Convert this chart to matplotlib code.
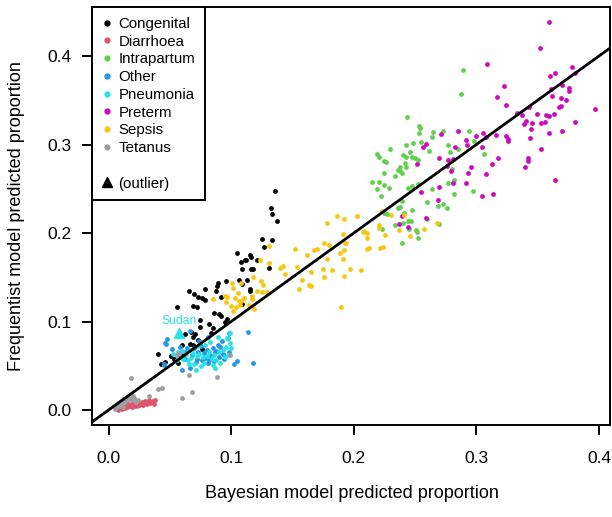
import matplotlib
matplotlib.use("Agg")
import matplotlib.pyplot as plt
from matplotlib.lines import Line2D

plt.rcParams['font.family'] = ['Liberation Sans', 'DejaVu Sans']

categories = ["Congenital", "Diarrhoea", "Intrapartum", "Other", "Pneumonia", "Preterm", "Sepsis", "Tetanus"]
colors = ["#000000", "#DF536B", "#61D04F", "#2297E6", "#28E2E5", "#CD0BBC", "#F5C710", "#9E9E9E"]

congenital = [
    (0.136, 0.247), (0.1325, 0.228), (0.133, 0.221), (0.137, 0.214), (0.125, 0.193), (0.133, 0.192),
    (0.1265, 0.184), (0.105, 0.177), (0.115, 0.175), (0.111, 0.170), (0.116, 0.1725), (0.121, 0.170),
    (0.108, 0.167), (0.112, 0.169), (0.1305, 0.161), (0.1085, 0.159), (0.116, 0.159), (0.118, 0.159),
    (0.1125, 0.147), (0.106, 0.1465), (0.096, 0.146), (0.0895, 0.144), (0.0887, 0.1405), (0.1085, 0.142),
    (0.088, 0.135), (0.079, 0.137), (0.0656, 0.134), (0.070, 0.1307), (0.073, 0.128), (0.0764, 0.126),
    (0.079, 0.124), (0.0914, 0.1277), (0.115, 0.134), (0.115, 0.1367), (0.1088, 0.1194), (0.0688, 0.118),
    (0.0724, 0.116), (0.0558, 0.116), (0.086, 0.110), (0.090, 0.1088), (0.092, 0.106), (0.0745, 0.102),
    (0.0748, 0.094), (0.0816, 0.0975), (0.0947, 0.100), (0.0854, 0.093), (0.0963, 0.103), (0.067, 0.088),
    (0.0705, 0.086), (0.069, 0.083), (0.073, 0.079), (0.0835, 0.0867), (0.066, 0.075), (0.069, 0.073),
    (0.076, 0.0686), (0.0405, 0.063), (0.051, 0.0607), (0.053, 0.0576), (0.0425, 0.052), (0.046, 0.0546),
    (0.061, 0.062), (0.0596, 0.073), (0.0566, 0.0535), (0.062, 0.086),
]

diarrhoea = [
    (0.006, 0.002), (0.008, 0.000), (0.010, 0.003), (0.011, 0.001), (0.012, 0.004), (0.013, 0.002),
    (0.014, 0.005), (0.015, 0.003), (0.016, 0.006), (0.017, 0.004), (0.018, 0.005), (0.019, 0.003),
    (0.020, 0.006), (0.021, 0.004), (0.022, 0.007), (0.023, 0.005), (0.024, 0.008), (0.025, 0.006),
    (0.026, 0.007), (0.027, 0.009), (0.028, 0.006), (0.029, 0.008), (0.030, 0.010), (0.031, 0.007),
    (0.032, 0.009), (0.033, 0.011), (0.034, 0.008), (0.036, 0.010), (0.038, 0.011), (0.037, 0.007),
    (0.015, 0.008), (0.019, 0.008),
]

intrapartum = [
    (0.289, 0.384), (0.2874, 0.357), (0.2434, 0.331), (0.2532, 0.321), (0.2543, 0.319), (0.2535, 0.313),
    (0.2646, 0.314), (0.2728, 0.315), (0.2937, 0.3156), (0.2638, 0.308), (0.2546, 0.303), (0.2485, 0.3014),
    (0.243, 0.2994), (0.2295, 0.2949), (0.2616, 0.2927), (0.2983, 0.3043), (0.277, 0.2994), (0.285, 0.2949),
    (0.2787, 0.2912), (0.2187, 0.2893), (0.2205, 0.2855), (0.2249, 0.281), (0.226, 0.280), (0.2404, 0.288),
    (0.243, 0.2855), (0.2456, 0.291), (0.2472, 0.2855), (0.250, 0.2844), (0.2526, 0.2825), (0.2415, 0.2787),
    (0.243, 0.2742), (0.2377, 0.2742), (0.2358, 0.271), (0.239, 0.268), (0.2377, 0.270), (0.2338, 0.2644),
    (0.2249, 0.2678), (0.215, 0.2573), (0.2205, 0.2573), (0.2249, 0.2542), (0.2192, 0.2494), (0.229, 0.2508),
    (0.2222, 0.2421), (0.2445, 0.2512), (0.2477, 0.2531), (0.2526, 0.255), (0.2638, 0.250), (0.2768, 0.2569),
    (0.282, 0.260), (0.2798, 0.2727), (0.297, 0.248), (0.2817, 0.2444), (0.2393, 0.236), (0.260, 0.235),
    (0.269, 0.2309), (0.2725, 0.2324), (0.2763, 0.2286), (0.2358, 0.2286), (0.2377, 0.2297), (0.2472, 0.2256),
    (0.2412, 0.2226), (0.2252, 0.2222), (0.2338, 0.209), (0.2404, 0.211), (0.2445, 0.2136), (0.2464, 0.214),
    (0.2453, 0.2042), (0.2505, 0.2034), (0.2513, 0.2015), (0.2227, 0.2042), (0.260, 0.2155), (0.2695, 0.2098),
    (0.2526, 0.194), (0.239, 0.1883), (0.306, 0.2896), (0.2249, 0.223), (0.2268, 0.2215),
]

other = [
    (0.047, 0.075), (0.048, 0.080), (0.046, 0.076), (0.0515, 0.0686), (0.045, 0.052), (0.045, 0.051),
    (0.060, 0.045), (0.066, 0.048), (0.066, 0.089), (0.081, 0.083), (0.081, 0.0535), (0.0976, 0.0817),
    (0.0985, 0.065), (0.0985, 0.0874), (0.1045, 0.0557), (0.1025, 0.052), (0.114, 0.088), (0.1175, 0.053),
    (0.070, 0.070), (0.073, 0.066), (0.075, 0.072), (0.078, 0.064), (0.080, 0.068), (0.083, 0.062),
    (0.085, 0.070), (0.087, 0.065), (0.090, 0.060), (0.072, 0.058), (0.076, 0.056), (0.079, 0.059),
    (0.082, 0.057), (0.086, 0.055), (0.088, 0.067), (0.091, 0.071), (0.093, 0.063), (0.068, 0.062),
    (0.071, 0.054), (0.062, 0.066), (0.064, 0.070), (0.058, 0.071), (0.094, 0.058), (0.089, 0.074),
    (0.0625, 0.0575), (0.0925, 0.0785), (0.074, 0.078),
]

pneumonia = [
    (0.089, 0.083), (0.099, 0.076), (0.0957, 0.0715), (0.0528, 0.063), (0.0555, 0.0565), (0.099, 0.0867),
    (0.0963, 0.081), (0.0868, 0.047), (0.058, 0.060), (0.061, 0.058), (0.063, 0.063), (0.065, 0.056),
    (0.067, 0.059), (0.069, 0.064), (0.070, 0.052), (0.072, 0.061), (0.074, 0.063), (0.075, 0.050),
    (0.077, 0.060), (0.078, 0.053), (0.080, 0.061), (0.082, 0.065), (0.084, 0.058), (0.085, 0.051),
    (0.086, 0.062), (0.088, 0.056), (0.090, 0.065), (0.091, 0.053), (0.093, 0.068), (0.095, 0.060),
    (0.097, 0.062), (0.066, 0.068), (0.073, 0.072), (0.079, 0.074), (0.083, 0.077), (0.060, 0.067),
    (0.057, 0.065), (0.100, 0.070), (0.0715, 0.0455), (0.0655, 0.0515),
]

preterm = [
    (0.3594, 0.4379), (0.352, 0.4087), (0.3087, 0.3914), (0.3784, 0.388), (0.3807, 0.3803), (0.360, 0.377),
    (0.364, 0.3808), (0.3226, 0.3662), (0.370, 0.3673), (0.3754, 0.3638), (0.3754, 0.360), (0.361, 0.3627),
    (0.3168, 0.354), (0.3618, 0.3543), (0.3693, 0.3524), (0.373, 0.350), (0.3242, 0.345), (0.367, 0.3424),
    (0.369, 0.3432), (0.3433, 0.3428), (0.3964, 0.3405), (0.3331, 0.336), (0.3494, 0.335), (0.3372, 0.3332),
    (0.3566, 0.3337), (0.3594, 0.3324), (0.363, 0.3343), (0.3405, 0.327), (0.3389, 0.3236), (0.345, 0.324),
    (0.3527, 0.3244), (0.356, 0.325), (0.3803, 0.3255), (0.3447, 0.3172), (0.3594, 0.3126), (0.370, 0.3153),
    (0.3439, 0.3076), (0.3242, 0.3092), (0.3256, 0.3065), (0.3259, 0.3045), (0.3157, 0.3103), (0.3082, 0.308),
    (0.3054, 0.313), (0.2996, 0.3095), (0.2852, 0.3156), (0.2916, 0.305), (0.2922, 0.300), (0.2822, 0.2973),
    (0.3049, 0.2972), (0.3524, 0.2946), (0.2767, 0.2823), (0.281, 0.2842), (0.3176, 0.285), (0.3419, 0.2846),
    (0.3422, 0.2811), (0.3129, 0.2777), (0.2958, 0.2743), (0.340, 0.2746), (0.2795, 0.2704), (0.2932, 0.268),
    (0.3077, 0.2666), (0.3643, 0.2597), (0.2808, 0.257), (0.2918, 0.2563), (0.3049, 0.2417), (0.3137, 0.244),
    (0.2759, 0.2757), (0.2711, 0.312), (0.2586, 0.3006), (0.2567, 0.2968), (0.2695, 0.2844), (0.2515, 0.2783),
    (0.2695, 0.252), (0.2546, 0.2463), (0.2684, 0.237), (0.2396, 0.2196), (0.2591, 0.2173), (0.2369, 0.2105),
    (0.2445, 0.2071),
]

sepsis = [
    (0.186, 0.2196), (0.203, 0.2196), (0.192, 0.216), (0.178, 0.211), (0.208, 0.202), (0.1755, 0.189),
    (0.1795, 0.187), (0.193, 0.189), (0.152, 0.182), (0.1675, 0.181), (0.1697, 0.182), (0.192, 0.181),
    (0.1887, 0.177), (0.162, 0.175), (0.178, 0.171), (0.1914, 0.1706), (0.1534, 0.162), (0.1749, 0.159),
    (0.182, 0.1585), (0.197, 0.159), (0.206, 0.158), (0.165, 0.156), (0.1425, 0.163), (0.140, 0.160),
    (0.144, 0.154), (0.192, 0.1514), (0.1757, 0.150), (0.158, 0.147), (0.1637, 0.141), (0.165, 0.140),
    (0.155, 0.137), (0.1306, 0.1857), (0.1306, 0.1665), (0.1235, 0.169), (0.1178, 0.1506), (0.101, 0.144),
    (0.1077, 0.1438), (0.124, 0.1458), (0.126, 0.141), (0.1017, 0.1375), (0.1208, 0.1348), (0.125, 0.133),
    (0.129, 0.133), (0.095, 0.1288), (0.0968, 0.128), (0.1058, 0.1318), (0.1167, 0.129), (0.103, 0.127),
    (0.106, 0.1235), (0.108, 0.1235), (0.1107, 0.126), (0.0998, 0.1175), (0.104, 0.1167), (0.107, 0.119),
    (0.1017, 0.112), (0.119, 0.1138), (0.085, 0.125), (0.0958, 0.1217), (0.1145, 0.119), (0.117, 0.125),
    (0.1896, 0.1167), (0.2105, 0.182), (0.2227, 0.2248), (0.2303, 0.220), (0.2208, 0.209), (0.2203, 0.206),
    (0.2077, 0.2015), (0.2105, 0.2003), (0.2108, 0.1947), (0.191, 0.1985), (0.1936, 0.1887), (0.2255, 0.1977),
    (0.2126, 0.183), (0.2214, 0.183), (0.224, 0.1845), (0.237, 0.2034), (0.2456, 0.1966), (0.257, 0.2045),
    (0.2676, 0.2116), (0.241, 0.220),
]

tetanus = [
    (0.004, 0.004), (0.006, 0.006), (0.007, 0.003), (0.008, 0.008), (0.009, 0.005), (0.010, 0.010),
    (0.011, 0.007), (0.012, 0.012), (0.013, 0.009), (0.014, 0.013), (0.015, 0.011), (0.016, 0.015),
    (0.017, 0.012), (0.018, 0.014), (0.019, 0.011), (0.020, 0.016), (0.021, 0.013), (0.005, 0.001),
    (0.012, 0.003), (0.022, 0.009), (0.024, 0.011), (0.018, 0.0365), (0.0405, 0.0237), (0.0433, 0.0245),
    (0.068, 0.020), (0.0596, 0.0139), (0.0658, 0.039), (0.0887, 0.0373), (0.099, 0.0618), (0.0577, 0.0647),
    (0.056, 0.062), (0.033, 0.016),
]

outlier_label = "Sudan"
outlier_point = (0.0574, 0.087)

series = [congenital, diarrhoea, intrapartum, other, pneumonia, preterm, sepsis, tetanus]

fig = plt.figure(figsize=(6.12, 5.17), dpi=100)
ax = fig.add_axes([92 / 612, 92 / 517, 518 / 612, 418 / 517])

for pts, col in zip(series, colors):
    xs = [p[0] for p in pts]
    ys = [p[1] for p in pts]
    ax.scatter(xs, ys, s=12, color=col, linewidths=0, zorder=2)

ax.plot([outlier_point[0]], [outlier_point[1]], marker='^', color=colors[4], markersize=7.5, ls='', zorder=2)
ax.text(outlier_point[0], outlier_point[1] + 0.0065, outlier_label, color=colors[4], fontsize=8.7,
        ha='center', va='bottom')

ax.axline((0, 0), slope=1, color='black', lw=2, zorder=3)

ax.set_xlim(-0.01354, 0.409)
ax.set_ylim(-0.01695, 0.4554)
ticks = [0.0, 0.1, 0.2, 0.3, 0.4]
ax.set_xticks(ticks)
ax.set_yticks(ticks)
ax.set_xticklabels([f"{t:.1f}" for t in ticks])
ax.set_yticklabels([f"{t:.1f}" for t in ticks])
ax.tick_params(axis='both', direction='out', length=7, width=1.4, labelsize=12.5, color='black')
ax.tick_params(axis='x', pad=12)
ax.tick_params(axis='y', pad=8)
for sp in ax.spines.values():
    sp.set_linewidth(1.4)

fig.text(352 / 612, 1 - 493 / 517, "Bayesian model predicted proportion", ha='center', va='center', fontsize=13)
fig.text(17 / 612, 1 - 216 / 517, "Frequentist model predicted proportion", ha='center', va='center',
         rotation=90, fontsize=13)

handles = [Line2D([], [], marker='o', ls='', color=c, markersize=3.5) for c in colors]
labels = list(categories)
handles.append(Line2D([], [], marker='', ls=''))
labels.append(" ")
handles.append(Line2D([], [], marker='^', ls='', color='black', markersize=7.5))
labels.append("(outlier)")
leg = ax.legend(handles, labels, loc='upper left', bbox_to_anchor=(0, 1), borderaxespad=0,
                fontsize=10.8, fancybox=False, framealpha=1, edgecolor='black',
                handlelength=0.75, handletextpad=0.35, borderpad=0.65, labelspacing=0.25)
leg.get_frame().set_linewidth(1.4)

fig.savefig("out.png", dpi=100)
